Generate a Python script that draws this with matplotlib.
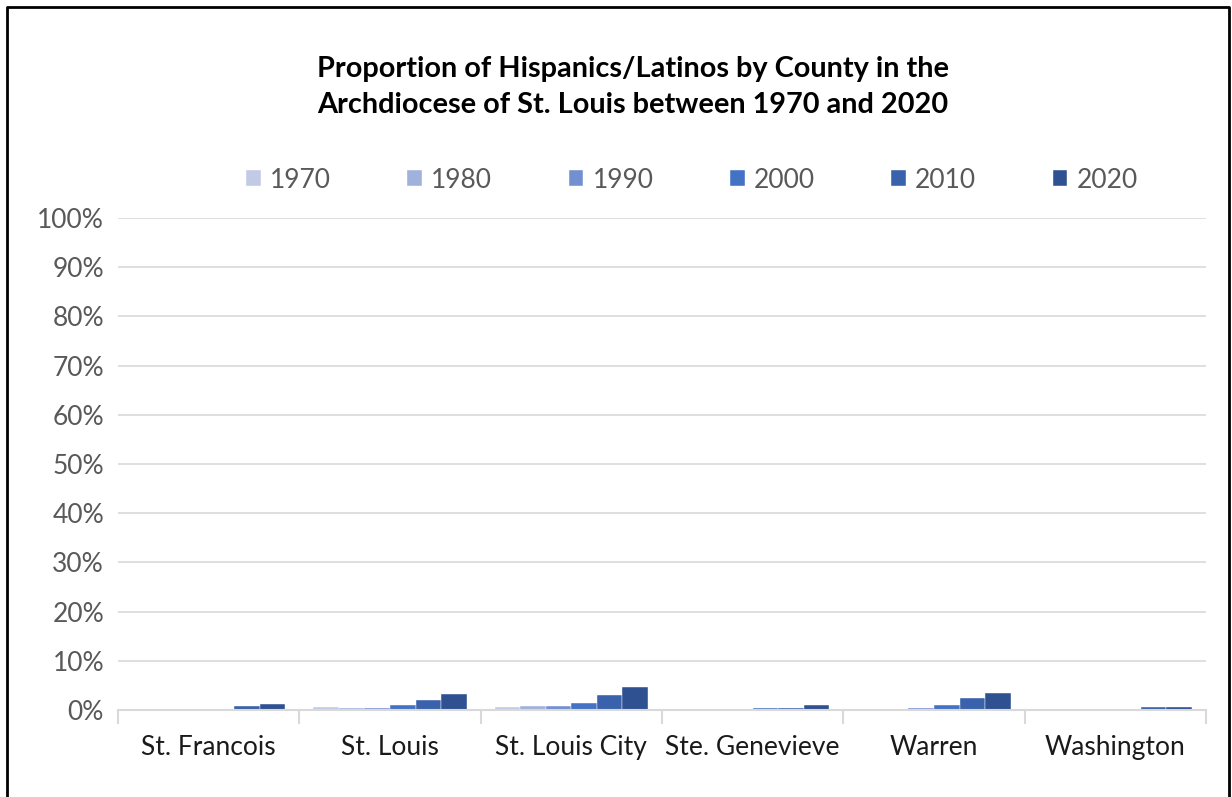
import numpy as np
import matplotlib.pyplot as plt
from matplotlib.lines import Line2D
from matplotlib.ticker import PercentFormatter

plt.rcParams['font.family'] = ['Lato', 'DejaVu Sans']

counties = ['St. Francois', 'St. Louis', 'St. Louis City', 'Ste. Genevieve', 'Warren', 'Washington']
years = ['1970', '1980', '1990', '2000', '2010', '2020']
# share of Hispanics/Latinos in percent, one list per census year
pct_1970 = [0.0, 0.68, 0.68, 0.0, 0.0, 0.0]
pct_1980 = [0.05, 0.4, 0.75, 0.0, 0.1, 0.0]
pct_1990 = [0.27, 0.47, 0.88, 0.05, 0.47, 0.1]
pct_2000 = [0.27, 1.0, 1.49, 0.4, 1.0, 0.27]
pct_2010 = [0.81, 2.0, 3.05, 0.4, 2.5, 0.54]
pct_2020 = [1.22, 3.25, 4.67, 1.0, 3.45, 0.54]
series = [pct_1970, pct_1980, pct_1990, pct_2000, pct_2010, pct_2020]
colors = ['#C2CBE6', '#A0B1DC', '#7290D0', '#4472C4', '#3A61AB', '#2F5192']

W, H = 1232, 797
fig = plt.figure(figsize=(W / 100, H / 100), dpi=100)
ax = fig.add_axes([118 / W, 1 - 710 / H, (1206 - 118) / W, (710 - 218) / H])

# outer chart border (left, top, right)
fig.add_artist(Line2D([7 / W, 7 / W, 1229 / W, 1229 / W],
                      [0, 1 - 7 / H, 1 - 7 / H, 0], color='black', lw=2.0,
                      transform=fig.transFigure))

x = np.arange(len(counties))
bw = 0.845 / 6
for i, (vals, c) in enumerate(zip(series, colors)):
    ax.bar(x + (i - 2.5) * bw, vals, width=bw, color=c,
           edgecolor='white', linewidth=0.3, label=years[i], zorder=3)

ax.set_xlim(-0.5, len(counties) - 0.5)
ax.set_ylim(0, 100)
ax.set_yticks(np.arange(0, 101, 10))
ax.yaxis.set_major_formatter(PercentFormatter(decimals=0))
ax.grid(axis='y', color='#D9D9D9', linewidth=1.2, zorder=0)
for s in ['top', 'right', 'left']:
    ax.spines[s].set_visible(False)
ax.spines['bottom'].set_color('#D9D9D9')
ax.spines['bottom'].set_linewidth(1.5)
ax.spines['bottom'].set_zorder(4)

ax.set_xticks(x)
ax.set_xticklabels(counties, fontsize=19, color='#1A1A1A')
ax.tick_params(axis='x', length=0, pad=18)
ax.set_xticks(np.arange(-0.5, len(counties)), minor=True)
ax.tick_params(axis='x', which='minor', length=10, color='#D9D9D9', width=1.5)
ax.tick_params(axis='y', length=0, labelsize=19, labelcolor='#595959', pad=10)

fig.text(633 / W, 1 - 87 / H,
         'Proportion of Hispanics/Latinos by County in the\nArchdiocese of St. Louis between 1970 and 2020',
         ha='center', va='center', fontsize=20.8, fontweight='bold',
         color='black', linespacing=1.45)

fig.legend(loc='center', bbox_to_anchor=(692 / W, 1 - 180 / H), ncol=6,
           frameon=False, fontsize=19, labelcolor='#595959',
           handlelength=0.55, handleheight=0.55, handletextpad=0.35,
           columnspacing=2.9)

fig.savefig('out.png', dpi=100)
